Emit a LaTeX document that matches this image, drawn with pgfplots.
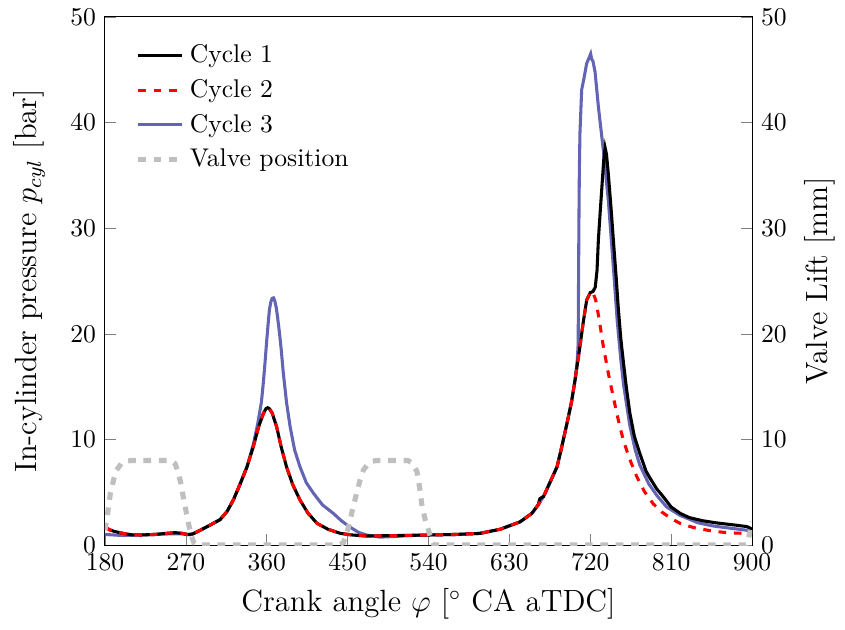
\documentclass[border=0pt]{standalone}
\usepackage{pgfplots}
\pgfplotsset{compat=1.18}
\definecolor{cyc3}{RGB}{100,100,180}
\begin{document}
\begin{tikzpicture}
\begin{axis}[
  name=main,
  scale only axis,
  width=252.7pt, height=206.25pt,
  xmin=180, xmax=900, ymin=0, ymax=50,
  xtick={180,270,...,900},
  ytick={0,10,...,50},
  xtick pos=bottom, ytick pos=left,
  tick align=inside,
  label style={font=\large},
  xlabel={Crank angle $\varphi$ [$^\circ$ CA aTDC]},
  ylabel={In-cylinder pressure $p_{cyl}$ [bar]},
  ylabel shift=3pt,
  legend style={draw=none, fill=none, at={(0.035,0.968)}, anchor=north west, row sep=1pt},
  legend cell align=left,
]
\addlegendimage{black, line width=1.2pt}
\addlegendentry{Cycle 1}
\addlegendimage{red, dashed, line width=1.2pt}
\addlegendentry{Cycle 2}
\addlegendimage{cyc3, line width=1.2pt}
\addlegendentry{Cycle 3}
\addlegendimage{black!25, dashed, line width=2pt}
\addlegendentry{Valve position}
% Cycle 3
\addplot[cyc3, line width=1.2pt, forget plot] coordinates {
(180,1.0)(200,0.9)(220,0.95)(250,1.05)(265,1.05)(275,0.97)(286,1.4)(295,1.8)(308,2.4)(316,3.2)(323,4.3)(330,5.7)(338,7.4)
(345,9.5)(350,11.5)(354,13.5)(356,15.2)(358,17.2)(360,19.4)(361.8,21.2)(363,22.3)(364.5,23.0)(366,23.35)(367.5,23.4)(369,23.1)(370.5,22.5)
(372,21.6)(374,20.2)(376,18.6)(378.4,16.3)(382,13.5)
(386,11.2)(391,9.0)(397,7.4)(404,5.9)(412,4.9)(422,3.8)(434,3.0)(443,2.3)(452.6,1.7)(462,1.2)(471,0.95)(486,0.75)(500,0.8)(520,0.9)
(540,0.95)(570,1.0)(597,1.1)(620,1.5)(642,2.2)(655,3.0)(662,3.8)(668,4.6)(675,5.9)(683,7.4)(688,9.2)(694,11.5)(699,13.5)(703,15.6)
(705.5,17.5)(706.5,19)(707.3,30)(707.8,35.2)(708.5,39)(710.4,43.1)(713,44.2)(716,45.6)(718,46.0)(719,46.2)(720.4,46.5)(721.5,46.0)
(723,45.8)(725.3,44.8)(729,41.5)(734.5,37.4)(740,32.7)(745.6,26.4)(750,21.2)(754,17.5)(757,15.2)(764,11.3)(770,9.0)(775,7.6)
(785,5.8)(794,4.7)(805,3.6)(820,2.8)(840,2.1)(857,1.8)(875,1.6)(894,1.4)(900,1.3)
};
% Cycle 1
\addplot[black, line width=1.2pt, forget plot] coordinates {
(180,1.7)(185,1.45)(190,1.3)(200,1.1)(210,0.97)(220,0.95)(235,1.0)(250,1.12)(258,1.17)(265,1.12)(272,1.0)(278,1.05)(286,1.4)
(295,1.8)(308,2.4)(316,3.2)(323,4.3)(330,5.7)(338,7.4)(345,9.3)(351,11.2)(356,12.4)(359,12.9)(361,13.0)(363,12.9)(366,12.5)(371,11.2)(376,9.3)
(382,7.4)(389,5.7)(397,4.26)(406,3.0)(416,2.05)(428,1.5)(442,1.1)(455,0.95)(471,0.85)(490,0.88)(507,0.9)(540,0.95)(570,1.0)
(597,1.1)(620,1.5)(642,2.2)(655,3.0)(662,3.8)(664,4.4)(666,4.5)(668,4.6)(675,5.9)(683,7.4)(688,9.2)(694,11.5)(699,13.5)(703,15.6)
(708,18.5)(712,21.0)(716,23.2)(720,23.9)(723,24.0)(725.5,24.4)(727.5,26)(729,28.9)(731,31.5)(733,34)(735,36.5)(736.5,37.6)
(738,37.0)(740,35.2)(743,32.0)(746,28.5)(749,25.1)(751,22.6)(754,19.5)(757,17.2)(760,15.0)(764,12.5)(769,10.3)(775,8.7)
(782,7.0)(786,6.4)(794,5.3)(800,4.7)(810,3.6)(820,3.0)(830,2.6)(845,2.3)(860,2.1)(880,1.9)(894,1.75)(898,1.6)(900,1.45)
};
% Cycle 2
\addplot[red, dashed, line width=1.2pt, forget plot] coordinates {
(180,1.7)(185,1.45)(190,1.3)(200,1.1)(210,0.97)(220,0.95)(235,1.0)(250,1.12)(258,1.17)(265,1.12)(272,1.0)(278,1.05)(286,1.4)
(295,1.8)(308,2.4)(316,3.2)(323,4.3)(330,5.7)(338,7.4)(345,9.3)(351,11.2)(356,12.4)(359,12.9)(361,13.0)(363,12.9)(366,12.5)(371,11.2)(376,9.3)
(382,7.4)(389,5.7)(397,4.26)(406,3.0)(416,2.05)(428,1.5)(442,1.1)(455,0.95)(471,0.85)(490,0.88)(507,0.9)(540,0.95)(570,1.0)
(597,1.1)(620,1.5)(642,2.2)(655,3.0)(662,3.8)(668,4.6)(675,5.9)(683,7.4)(688,9.2)(694,11.5)(699,13.5)(703,15.6)
(708,18.5)(712,21.0)(716,23.2)(720,23.9)(722.6,24.0)(726,23.2)(730,21.3)(734.5,18.8)(740,16.3)(745.6,14.0)(751,11.9)
(756.8,9.9)(764,8.1)(771.6,6.5)(780,5.1)(790,3.9)(800,3.1)(810,2.5)(820,2.05)(835,1.65)(857,1.3)(875,1.15)(894,1.1)(900,1.05)
};
\end{axis}
\begin{axis}[
  scale only axis,
  width=252.7pt, height=206.25pt,
  xmin=180, xmax=900, ymin=0, ymax=50,
  axis y line*=right, axis x line=none,
  ytick={0,10,...,50},
  tick align=inside,
  label style={font=\large},
  ylabel={Valve Lift [mm]},
]
\addplot[black!25, dashed, line width=2pt] coordinates {
(180,1.4)(183,3.0)(186,4.9)(190,6.3)(193,7.1)(198,7.7)(204,7.95)(210,8)(250,8)(255,7.9)(258,7.7)(261,7.0)(264,6.0)(267,4.6)
(270,3.3)(273,2.0)(276,0.9)(279,0.2)(282,0)(440,0)(445,0.2)(448,0.8)(451,1.7)(455,3.2)(460,4.9)(464,6.2)(467.5,7.1)(472,7.6)
(478,7.95)(483,8)(517,8)(521,7.8)(524,7.4)(527,7.0)(530,5.5)(532.4,3.9)(536,2.5)(540,1.4)(543,0.5)(546,0)(893,0)(896,0.6)
(898,1.4)(900,2.2)
};
\end{axis}
\path (main.south west) ++(-41pt,-32.8pt) (main.north east) ++(36.3pt,6.6pt);
\end{tikzpicture}
\end{document}
